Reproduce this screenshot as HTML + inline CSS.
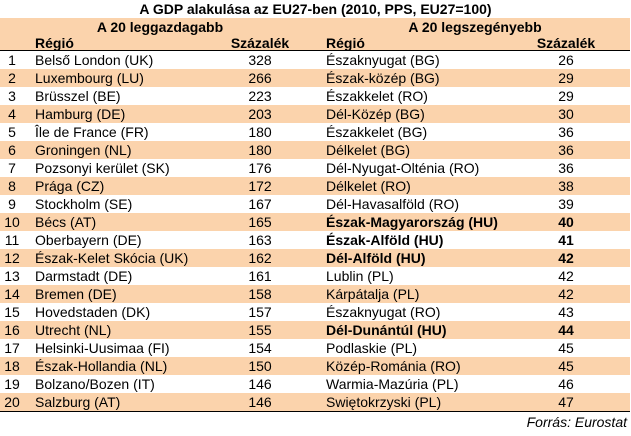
<!DOCTYPE html><html><head><style>
body{margin:0;width:631px;height:436px;background:#fff;font-family:"Liberation Sans",Arial,sans-serif;font-size:14px;color:#000;position:relative;overflow:hidden}
.t{position:absolute;top:1px;left:0;width:631px;text-align:center;font-weight:bold;font-size:14px}
.hb{position:absolute;left:0;top:18px;width:630px;height:32px;background:#fbd3ac;border-bottom:1px solid #000}
.r{position:absolute;left:0;width:630px;height:18px;line-height:18px}
.o{background:#fbd3ac}
.r span,.hb span{position:absolute;white-space:nowrap;line-height:16px}
.r span{line-height:18px}
.n{left:0;width:24px;text-align:center}
.a{left:35px}.p{left:210px;width:100px;text-align:center}
.b{left:326px}.q{left:516px;width:100px;text-align:center}
.bd{font-weight:bold}
.bl{position:absolute;left:0;top:411px;width:630px;border-top:1px solid #000}
.src{position:absolute;right:4px;top:414px;font-style:italic}
</style></head><body>
<div class="t">A GDP alakulása az EU27-ben (2010, PPS, EU27=100)</div>
<div class="hb" style="font-weight:bold">
<span style="left:60px;width:200px;text-align:center;top:1px">A 20 leggazdagabb</span>
<span style="left:375px;width:200px;text-align:center;top:1px">A 20 legszegényebb</span>
<span style="left:35px;top:17px">Régió</span><span style="left:210px;width:100px;text-align:center;top:17px">Százalék</span>
<span style="left:326px;top:17px">Régió</span><span style="left:516px;width:100px;text-align:center;top:17px">Százalék</span>
</div>
<div class="r" style="top:51px"><span class="n">1</span><span class="a">Belső London (UK)</span><span class="p">328</span><span class="b">Északnyugat (BG)</span><span class="q">26</span></div>
<div class="r o" style="top:69px"><span class="n">2</span><span class="a">Luxembourg (LU)</span><span class="p">266</span><span class="b">Észak-közép (BG)</span><span class="q">29</span></div>
<div class="r" style="top:87px"><span class="n">3</span><span class="a">Brüsszel (BE)</span><span class="p">223</span><span class="b">Északkelet (RO)</span><span class="q">29</span></div>
<div class="r o" style="top:105px"><span class="n">4</span><span class="a">Hamburg (DE)</span><span class="p">203</span><span class="b">Dél-Közép (BG)</span><span class="q">30</span></div>
<div class="r" style="top:123px"><span class="n">5</span><span class="a">Île de France (FR)</span><span class="p">180</span><span class="b">Északkelet (BG)</span><span class="q">36</span></div>
<div class="r o" style="top:141px"><span class="n">6</span><span class="a">Groningen (NL)</span><span class="p">180</span><span class="b">Délkelet (BG)</span><span class="q">36</span></div>
<div class="r" style="top:159px"><span class="n">7</span><span class="a">Pozsonyi kerület (SK)</span><span class="p">176</span><span class="b">Dél-Nyugat-Olténia (RO)</span><span class="q">36</span></div>
<div class="r o" style="top:177px"><span class="n">8</span><span class="a">Prága (CZ)</span><span class="p">172</span><span class="b">Délkelet (RO)</span><span class="q">38</span></div>
<div class="r" style="top:195px"><span class="n">9</span><span class="a">Stockholm (SE)</span><span class="p">167</span><span class="b">Dél-Havasalföld (RO)</span><span class="q">39</span></div>
<div class="r o" style="top:213px"><span class="n">10</span><span class="a">Bécs (AT)</span><span class="p">165</span><span class="b bd">Észak-Magyarország (HU)</span><span class="q bd">40</span></div>
<div class="r" style="top:231px"><span class="n">11</span><span class="a">Oberbayern (DE)</span><span class="p">163</span><span class="b bd">Észak-Alföld (HU)</span><span class="q bd">41</span></div>
<div class="r o" style="top:249px"><span class="n">12</span><span class="a">Észak-Kelet Skócia (UK)</span><span class="p">162</span><span class="b bd">Dél-Alföld (HU)</span><span class="q bd">42</span></div>
<div class="r" style="top:267px"><span class="n">13</span><span class="a">Darmstadt (DE)</span><span class="p">161</span><span class="b">Lublin (PL)</span><span class="q">42</span></div>
<div class="r o" style="top:285px"><span class="n">14</span><span class="a">Bremen (DE)</span><span class="p">158</span><span class="b">Kárpátalja (PL)</span><span class="q">42</span></div>
<div class="r" style="top:303px"><span class="n">15</span><span class="a">Hovedstaden (DK)</span><span class="p">157</span><span class="b">Északnyugat (RO)</span><span class="q">43</span></div>
<div class="r o" style="top:321px"><span class="n">16</span><span class="a">Utrecht (NL)</span><span class="p">155</span><span class="b bd">Dél-Dunántúl (HU)</span><span class="q bd">44</span></div>
<div class="r" style="top:339px"><span class="n">17</span><span class="a">Helsinki-Uusimaa (FI)</span><span class="p">154</span><span class="b">Podlaskie (PL)</span><span class="q">45</span></div>
<div class="r o" style="top:357px"><span class="n">18</span><span class="a">Észak-Hollandia (NL)</span><span class="p">150</span><span class="b">Közép-Románia (RO)</span><span class="q">45</span></div>
<div class="r" style="top:375px"><span class="n">19</span><span class="a">Bolzano/Bozen (IT)</span><span class="p">146</span><span class="b">Warmia-Mazúria (PL)</span><span class="q">46</span></div>
<div class="r o" style="top:393px"><span class="n">20</span><span class="a">Salzburg (AT)</span><span class="p">146</span><span class="b">Swiętokrzyski (PL)</span><span class="q">47</span></div>
<div class="bl"></div>
<div class="src">Forrás: Eurostat</div>
</body></html>
